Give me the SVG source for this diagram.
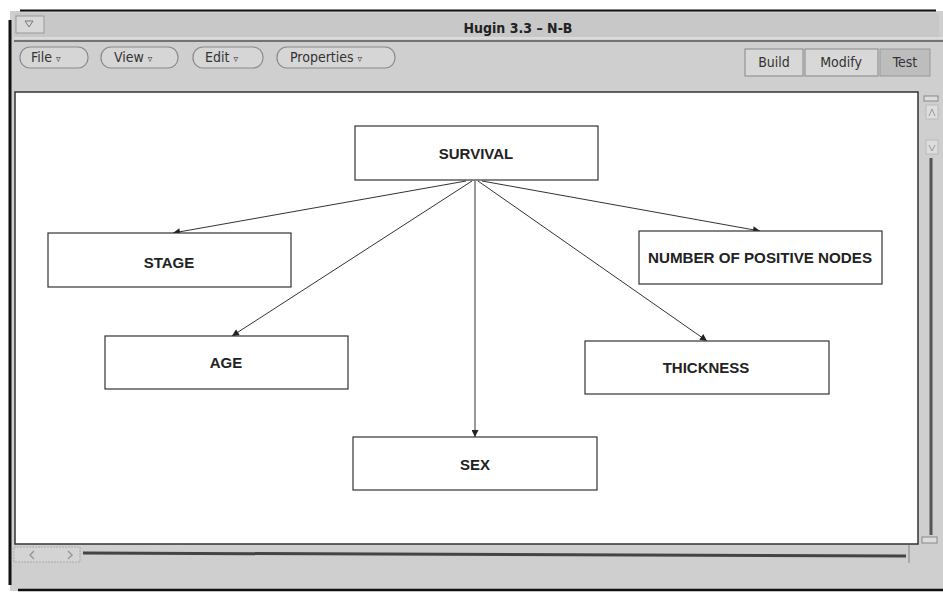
<svg xmlns="http://www.w3.org/2000/svg" width="943" height="595" viewBox="0 0 943 595">
<style>
.win{fill:#cfcfcf}
.btn{fill:#d6d6d6;stroke:#8a8a8a;stroke-width:1.2}
.mtxt{font-family:"DejaVu Sans Condensed","Liberation Sans",sans-serif;font-size:14px;fill:#333}
.node rect{fill:#fff;stroke:#333;stroke-width:1.2}
.node text{font-family:"Liberation Sans",Arial,sans-serif;font-size:15px;font-weight:bold;fill:#222;text-anchor:middle;dominant-baseline:middle}
.edge{stroke:#333;stroke-width:1;fill:none;marker-end:url(#ah)}
</style>
<defs>
<marker id="ah" viewBox="0 0 10 10" refX="10" refY="5" markerWidth="9" markerHeight="7" orient="auto" markerUnits="userSpaceOnUse">
<path d="M0,0 L10,5 L0,10 z" fill="#222"/>
</marker>
</defs>
<rect x="0" y="0" width="943" height="595" fill="#fff"/>
<g id="window">
<rect x="10" y="11" width="933" height="580" class="win"/>
<line x1="20" y1="10.5" x2="936" y2="10.5" stroke="#111" stroke-width="2"/>
<line x1="10" y1="20" x2="10" y2="585" stroke="#111" stroke-width="3"/>
<line x1="18" y1="590" x2="943" y2="590" stroke="#111" stroke-width="2.5"/>
<rect x="14" y="13" width="925" height="26" fill="#c8c8c8"/>
<rect x="16" y="16" width="28" height="17" fill="#d8d8d8" stroke="#999"/>
<path d="M25,21 L33,21 L29,27 z" fill="none" stroke="#777"/>
<text x="518" y="33" font-family="'DejaVu Sans Condensed','Liberation Sans Narrow',sans-serif" font-size="14" font-weight="bold" fill="#222" text-anchor="middle">Hugin 3.3  –  N-B</text>
<line x1="14" y1="41" x2="943" y2="41" stroke="#555" stroke-width="1.5"/>
<line x1="14" y1="38" x2="943" y2="38" stroke="#eee" stroke-width="1"/>
<rect x="20" y="47" width="68" height="21" rx="10" class="btn"/>
<text x="31" y="62" class="mtxt">File <tspan font-size="10">▿</tspan></text>
<rect x="101" y="47" width="77" height="21" rx="10" class="btn"/>
<text x="114" y="62" class="mtxt">View <tspan font-size="10">▿</tspan></text>
<rect x="193" y="47" width="70" height="21" rx="10" class="btn"/>
<text x="205" y="62" class="mtxt">Edit <tspan font-size="10">▿</tspan></text>
<rect x="277" y="47" width="118" height="21" rx="10" class="btn"/>
<text x="290" y="62" class="mtxt">Properties <tspan font-size="10">▿</tspan></text>
<rect x="745" y="49" width="58" height="27" fill="#d8d8d8" stroke="#888"/>
<text x="774" y="67" class="mtxt" text-anchor="middle">Build</text>
<rect x="805" y="49" width="73" height="27" fill="#d8d8d8" stroke="#888"/>
<text x="841" y="67" class="mtxt" text-anchor="middle">Modify</text>
<rect x="880" y="49" width="50" height="27" fill="#bdbdbd" stroke="#999"/>
<text x="905" y="67" class="mtxt" text-anchor="middle">Test</text>
<rect x="15" y="92" width="903" height="452" fill="#fff" stroke="#333" stroke-width="1.5"/>
<rect x="924" y="96" width="14" height="5" fill="#ddd" stroke="#888"/>
<rect x="926" y="105" width="12" height="14" fill="#ddd" stroke="#bbb"/>
<path d="M929,116 L932,109 L935,116" fill="none" stroke="#999"/>
<rect x="926" y="140" width="12" height="14" fill="#ddd" stroke="#bbb"/>
<path d="M929,145 L932,151 L935,145" fill="none" stroke="#999"/>
<line x1="931" y1="158" x2="931" y2="535" stroke="#555" stroke-width="3"/>
<rect x="922" y="537" width="15" height="6" fill="#ddd" stroke="#888"/>
<rect x="14" y="547" width="66" height="15" fill="#d4d4d4" stroke="#aaa" stroke-dasharray="2,1"/>
<path d="M34,551 L30,555 L34,559" fill="none" stroke="#999" stroke-width="1.5"/>
<path d="M68,551 L72,555 L68,559" fill="none" stroke="#999" stroke-width="1.5"/>
<line x1="83" y1="553" x2="906" y2="556" stroke="#444" stroke-width="3"/>
<line x1="909" y1="545" x2="909" y2="563" stroke="#aaa" stroke-width="2"/>
</g>
<g id="connectors">
<line class="edge" x1="466" y1="181" x2="173" y2="233"/>
<line class="edge" x1="472" y1="181" x2="232" y2="336"/>
<line class="edge" x1="475" y1="181" x2="475" y2="437"/>
<line class="edge" x1="478" y1="181" x2="707" y2="341"/>
<line class="edge" x1="482" y1="181" x2="760" y2="231"/>
</g>
<g id="survival" class="node"><rect x="355" y="126" width="243" height="54"/><text x="476" y="155">SURVIVAL</text></g>
<g id="stage" class="node"><rect x="48" y="233" width="243" height="54"/><text x="169" y="264">STAGE</text></g>
<g id="age" class="node"><rect x="105" y="336" width="243" height="53"/><text x="226" y="364">AGE</text></g>
<g id="sex" class="node"><rect x="353" y="437" width="244" height="53"/><text x="475" y="466">SEX</text></g>
<g id="positive-nodes" class="node"><rect x="639" y="231" width="243" height="53"/><text x="760" y="259" textLength="224" lengthAdjust="spacingAndGlyphs">NUMBER OF POSITIVE NODES</text></g>
<g id="thickness" class="node"><rect x="585" y="341" width="244" height="53"/><text x="706" y="369">THICKNESS</text></g>
</svg>
